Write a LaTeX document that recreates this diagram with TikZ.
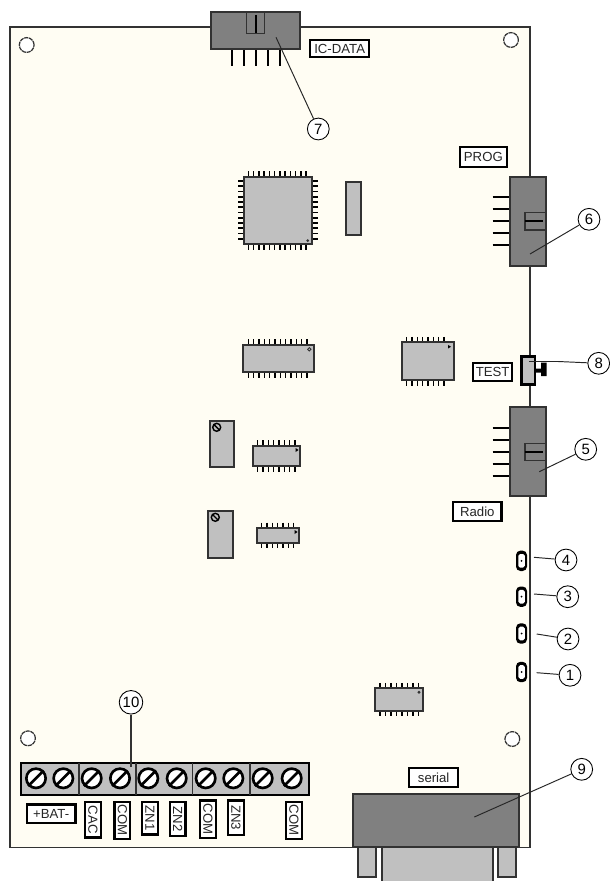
\documentclass[tikz,border=0pt]{standalone}
\usepackage{fontspec}
\setmainfont{Liberation Sans}
\definecolor{boardcream}{RGB}{255,253,243}
\definecolor{chipgray}{RGB}{192,192,192}
\definecolor{connectgray}{RGB}{128,128,128}
\definecolor{edgegray}{RGB}{50,50,50}
\tikzset{
	pcb/.style={draw=edgegray,line width=1.1pt,fill=boardcream},
	chipbody/.style={draw=edgegray,line width=1.1pt,fill=chipgray},
	plug/.style={draw=edgegray,line width=1.1pt,fill=connectgray},
	pinline/.style={black,line width=0.9pt},
	plugpin/.style={black,line width=1.2pt},
	hole/.style={circle,draw=edgegray,dash pattern=on 2.4pt off 0.4pt,line width=0.7pt,fill=white,minimum size=8.4pt,inner sep=0pt},
	tag/.style={draw=black,line width=1.3pt,fill=white,font=\fontsize{7.5pt}{8pt}\selectfont,inner sep=0pt,text=black!85},
	callout/.style={circle,draw=black,line width=0.5pt,fill=white,inner sep=0pt,minimum size=12.4pt,font=\fontsize{8.5pt}{9pt}\selectfont},
	leader/.style={draw=black!85,line width=0.55pt},
	screw/.style={circle,draw=black,line width=1.5pt,fill=white,inner sep=0pt,minimum size=11pt},
}
% rectangle tag: x1,y1,x2,y2,name,text
\newcommand{\tagbox}[6]{\node[tag,minimum width={(#3-#1)*0.02cm-1.3pt},minimum height={(#4-#2)*0.02cm-1.3pt}] (#5) at ({(#1+#3)/2},{(#2+#4)/2}) {#6};}
\newcommand{\tagside}[6]{\node[tag,rotate=-90,minimum width={(#4-#2)*0.02cm-1.3pt},minimum height={(#3-#1)*0.02cm-1.3pt}] (#5) at ({(#1+#3)/2},{(#2+#4)/2}) {#6};}
% chip: x1,y1,x2,y2,first pin x,last pin x,number of pins
\newcommand{\chipdip}[7]{
	\foreach \p in {1,...,#7} {
		\pgfmathsetmacro{\px}{#5+(\p-1)*(#6-#5)/(#7-1)}
		\draw[pinline] (\px,#2-5.5)--(\px,#4+5.5);
	}
	\draw[chipbody] (#1,#2) rectangle (#3,#4);
}
% header on the right edge: top y
\newcommand{\sideheader}[1]{
	\foreach \k in {0,...,4} \draw[plugpin] (492.7,#1+20.6+12*\k)--(510,#1+20.6+12*\k);
	\draw[plug] (510,#1) rectangle (546.3,#1+89);
	\draw[edgegray,line width=0.9pt] (524.7,#1+36) rectangle (546.3,#1+53.3);
	\draw[plugpin] (525,#1+44.4)--(543,#1+44.4);
}
\begin{document}
\begin{tikzpicture}[x=0.02cm,y=-0.02cm]
	\useasboundingbox (0,0) rectangle (609,881);
	% board
	\draw[pcb] (10,27) rectangle (530,847.5);
	\node[hole] (holeA) at (26.7,45) {};
	\node[hole] (holeB) at (511,40) {};
	\node[hole] (holeC) at (28,738.3) {};
	\node[hole] (holeD) at (512.3,739) {};
	% IC-DATA header
	\foreach \x in {231.7,243.7,255.7,267.7,279.7} \draw[plugpin] (\x,48)--(\x,66);
	\draw[plug] (210.7,12.3) rectangle (300,48.7);
	\draw[edgegray,line width=0.9pt] (246.7,12.3) rectangle (264.3,33.7);
	\draw[plugpin] (255.7,15)--(255.7,33);
	\tagbox{309}{39}{370.3}{58}{icdata}{IC-DATA}
	% large square chip
	\foreach \k in {0,...,11} {
		\draw[pinline] (248.3+\k*5.25,171.5)--(248.3+\k*5.25,250);
		\draw[pinline] (238.3,181+\k*5.25)--(318.3,181+\k*5.25);
	}
	\draw[chipbody] (244.3,177.3) rectangle (311.7,244.3);
	\fill[edgegray] (307.7,240.7) circle (1.5);
	\draw[chipbody] (346,182) rectangle (361,235.3);
	% other chips
	\chipdip{242.7}{345}{313.7}{372}{248.3}{307}{12}
	\draw[edgegray,line width=0.5pt] (309.3,349.3) circle (1.7);
	\chipdip{401.7}{342.3}{454}{380}{406.7}{444}{8}
	\fill[black] (448,345)--(451,346.7)--(448,348.5)--cycle;
	\chipdip{253.3}{445.7}{300.3}{466}{257.7}{295}{8}
	\fill[black] (295.5,448)--(298.5,450)--(295.5,452)--cycle;
	\chipdip{257.3}{528}{299}{542.7}{261.7}{293.7}{7}
	\fill[black] (294.5,530)--(297.5,532)--(294.5,534)--cycle;
	\chipdip{375}{688.3}{423.3}{710.7}{380}{418.5}{8}
	\fill[edgegray] (419,692.3) circle (1.6);
	% trimmers
	\draw[chipbody] (210,420.7) rectangle (234,467.3);
	\draw[black,line width=0.8pt] (216.7,427.3) circle (4) (214,424.6)--(219.4,430);
	\draw[chipbody] (208.3,510.7) rectangle (232.7,557.7);
	\draw[black,line width=0.8pt] (215.3,517.3) circle (4) (212.6,514.6)--(218,520);
	% side headers
	\sideheader{176.7}
	\tagbox{458.7}{146}{508}{168}{prog}{PROG}
	\sideheader{407.3}
	\tagbox{452}{500.7}{502.7}{522}{radio}{Radio}
	% test switch
	\fill[black] (535.7,368.5) rectangle (541,372.5) (541,362.7) rectangle (546.7,376);
	\draw[black,line width=1.3pt,fill=chipgray] (521.5,356.5) rectangle (535.2,384.5);
	\tagbox{472}{362}{513.3}{382.3}{test}{TEST}
	% LEDs
	\foreach \n/\y in {ledA/672,ledB/633.5,ledC/596.7,ledD/560.8} {
		\fill[black,rounded corners=2.5pt] (516,\y-10.2) rectangle (527,\y+10.2);
		\fill[white,rounded corners=1pt] (518.3,\y-6.8) rectangle (524.8,\y+6.8);
		\fill[black] (521.5,\y) circle (1);
	}
	% terminal block
	\draw[black,line width=1.3pt,fill=chipgray] (20.7,762.7) rectangle (309.3,795);
	\foreach \x in {79,136,192.7,250} \draw[edgegray,line width=0.6pt] (\x,763)--(\x,795);
	\foreach \n/\x in {1/36,2/63.3,3/91.7,4/120,5/148.3,6/176.7,7/205.7,8/233.3,9/262.7,10/291.7} {
		\node[screw] (screw\n) at (\x,778.3) {};
		\draw[black,line width=1.5pt] (screw\n.225)--(screw\n.45);
	}
	\tagbox{25.7}{803.3}{76.7}{824.3}{bat}{+BAT-}
	\tagside{83.7}{800.7}{102}{838.7}{cac}{CAC}
	\tagside{113.3}{800.7}{131.3}{840}{comA}{COM}
	\tagside{141}{800.7}{159}{835.7}{znA}{ZN1}
	\tagside{168.7}{800.7}{186.7}{837.3}{znB}{ZN2}
	\tagside{199}{799.3}{217}{839}{comB}{COM}
	\tagside{227}{799.3}{245}{836}{znC}{ZN3}
	\tagside{285}{800.7}{303}{840}{comC}{COM}
	% serial connector
	\draw[chipbody] (358,847.3) rectangle (375.7,876.7);
	\draw[chipbody] (498.3,847.3) rectangle (516,876.7);
	\draw[chipbody] (381.7,847.3) rectangle (493.3,890);
	\draw[plug] (352.7,794) rectangle (519.3,847.3);
	\tagbox{408}{766.7}{459.3}{788}{serial}{serial}
	% numbered callouts
	\node[callout] (c1) at (570,675.3) {1};
	\node[callout] (c2) at (568,639) {2};
	\node[callout] (c3) at (567.7,596.7) {3};
	\node[callout] (c4) at (566,560) {4};
	\node[callout] (c5) at (585.7,449.3) {5};
	\node[callout] (c6) at (589,219.3) {6};
	\node[callout] (c7) at (318.3,129) {7};
	\node[callout] (c8) at (598.7,363.3) {8};
	\node[callout] (c9) at (581.7,769.3) {9};
	\node[callout,minimum size=13.4pt] (c10) at (131,702.3) {10};
	\coordinate (e1) at (536.7,672.7);
	\coordinate (e2) at (536.7,634);
	\coordinate (e3) at (534,594);
	\coordinate (e4) at (534,557.3);
	\coordinate (e5) at (539.3,471.7);
	\coordinate (e6) at (530,254);
	\coordinate (e7) at (276,37.3);
	\coordinate (e8) at (529,361.5);
	\coordinate (e9) at (474.3,817);
	\coordinate (e10) at (131,767);
	\foreach \n in {1,...,7,9} \draw[leader] (e\n)--(c\n);
	\draw[leader] (e8)--(558,361.5)--(c8);
	\draw[edgegray,line width=0.9pt] (e10)--(c10);
\end{tikzpicture}
\end{document}
